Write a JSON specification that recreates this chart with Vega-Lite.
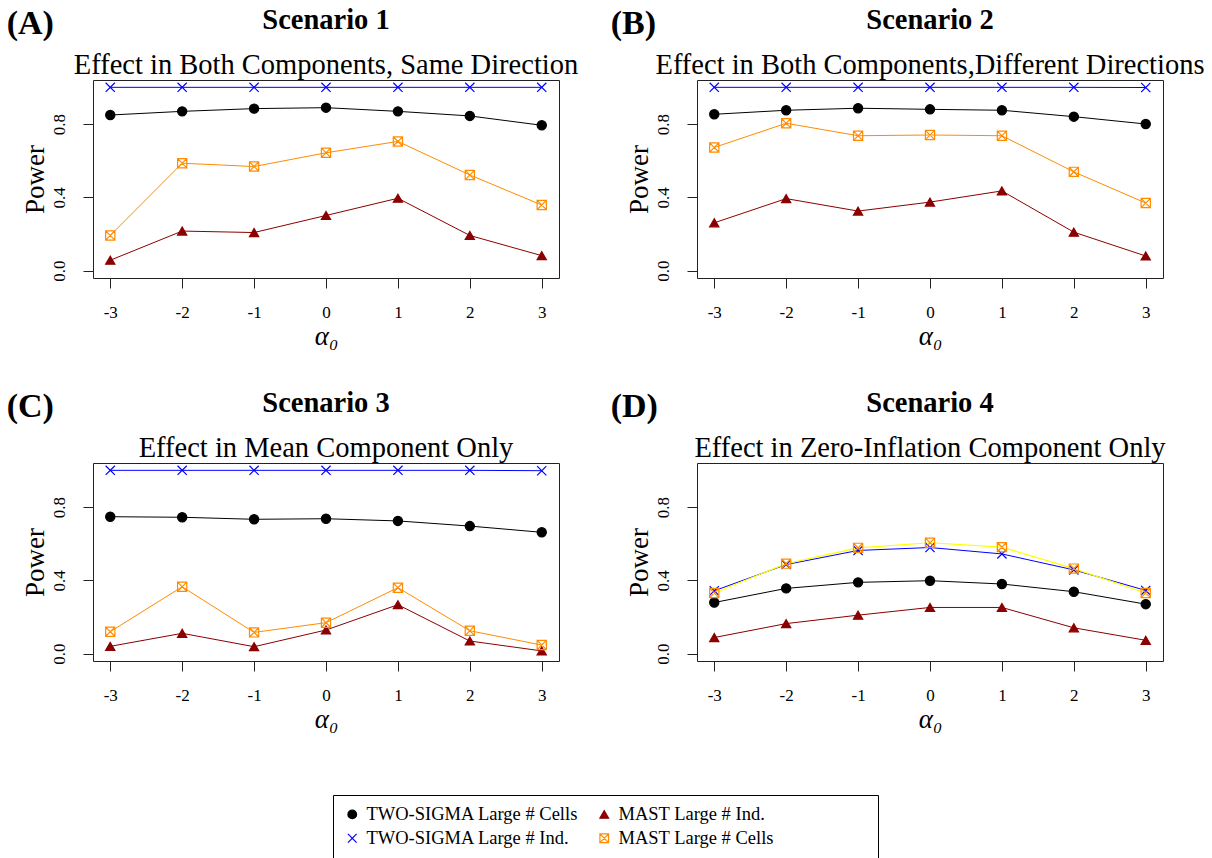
{
  "$schema": "https://vega.github.io/schema/vega-lite/v6.json",
  "background": "white",
  "padding": {"left": 6, "top": 5, "right": 0, "bottom": 0},
  "datasets": {
    "power": [
      {"panel":"A","alpha":-3,"series":"TWO-SIGMA Large # Cells","power":0.849},
      {"panel":"A","alpha":-2,"series":"TWO-SIGMA Large # Cells","power":0.869},
      {"panel":"A","alpha":-1,"series":"TWO-SIGMA Large # Cells","power":0.884},
      {"panel":"A","alpha":0,"series":"TWO-SIGMA Large # Cells","power":0.889},
      {"panel":"A","alpha":1,"series":"TWO-SIGMA Large # Cells","power":0.869},
      {"panel":"A","alpha":2,"series":"TWO-SIGMA Large # Cells","power":0.844},
      {"panel":"A","alpha":3,"series":"TWO-SIGMA Large # Cells","power":0.793},
      {"panel":"A","alpha":-3,"series":"TWO-SIGMA Large # Ind.","power":1.0},
      {"panel":"A","alpha":-2,"series":"TWO-SIGMA Large # Ind.","power":1.0},
      {"panel":"A","alpha":-1,"series":"TWO-SIGMA Large # Ind.","power":1.0},
      {"panel":"A","alpha":0,"series":"TWO-SIGMA Large # Ind.","power":1.0},
      {"panel":"A","alpha":1,"series":"TWO-SIGMA Large # Ind.","power":1.0},
      {"panel":"A","alpha":2,"series":"TWO-SIGMA Large # Ind.","power":1.0},
      {"panel":"A","alpha":3,"series":"TWO-SIGMA Large # Ind.","power":1.0},
      {"panel":"A","alpha":-3,"series":"MAST Large # Ind.","power":0.057},
      {"panel":"A","alpha":-2,"series":"MAST Large # Ind.","power":0.216},
      {"panel":"A","alpha":-1,"series":"MAST Large # Ind.","power":0.208},
      {"panel":"A","alpha":0,"series":"MAST Large # Ind.","power":0.301},
      {"panel":"A","alpha":1,"series":"MAST Large # Ind.","power":0.395},
      {"panel":"A","alpha":2,"series":"MAST Large # Ind.","power":0.192},
      {"panel":"A","alpha":3,"series":"MAST Large # Ind.","power":0.082},
      {"panel":"A","alpha":-3,"series":"MAST Large # Cells","power":0.192},
      {"panel":"A","alpha":-2,"series":"MAST Large # Cells","power":0.586},
      {"panel":"A","alpha":-1,"series":"MAST Large # Cells","power":0.568},
      {"panel":"A","alpha":0,"series":"MAST Large # Cells","power":0.643},
      {"panel":"A","alpha":1,"series":"MAST Large # Cells","power":0.705},
      {"panel":"A","alpha":2,"series":"MAST Large # Cells","power":0.522},
      {"panel":"A","alpha":3,"series":"MAST Large # Cells","power":0.358},

      {"panel":"B","alpha":-3,"series":"TWO-SIGMA Large # Cells","power":0.853},
      {"panel":"B","alpha":-2,"series":"TWO-SIGMA Large # Cells","power":0.875},
      {"panel":"B","alpha":-1,"series":"TWO-SIGMA Large # Cells","power":0.886},
      {"panel":"B","alpha":0,"series":"TWO-SIGMA Large # Cells","power":0.880},
      {"panel":"B","alpha":1,"series":"TWO-SIGMA Large # Cells","power":0.875},
      {"panel":"B","alpha":2,"series":"TWO-SIGMA Large # Cells","power":0.840},
      {"panel":"B","alpha":3,"series":"TWO-SIGMA Large # Cells","power":0.800},
      {"panel":"B","alpha":-3,"series":"TWO-SIGMA Large # Ind.","power":1.0},
      {"panel":"B","alpha":-2,"series":"TWO-SIGMA Large # Ind.","power":1.0},
      {"panel":"B","alpha":-1,"series":"TWO-SIGMA Large # Ind.","power":1.0},
      {"panel":"B","alpha":0,"series":"TWO-SIGMA Large # Ind.","power":1.0},
      {"panel":"B","alpha":1,"series":"TWO-SIGMA Large # Ind.","power":1.0},
      {"panel":"B","alpha":2,"series":"TWO-SIGMA Large # Ind.","power":1.0},
      {"panel":"B","alpha":3,"series":"TWO-SIGMA Large # Ind.","power":0.999},
      {"panel":"B","alpha":-3,"series":"MAST Large # Ind.","power":0.261},
      {"panel":"B","alpha":-2,"series":"MAST Large # Ind.","power":0.393},
      {"panel":"B","alpha":-1,"series":"MAST Large # Ind.","power":0.325},
      {"panel":"B","alpha":0,"series":"MAST Large # Ind.","power":0.374},
      {"panel":"B","alpha":1,"series":"MAST Large # Ind.","power":0.435},
      {"panel":"B","alpha":2,"series":"MAST Large # Ind.","power":0.210},
      {"panel":"B","alpha":3,"series":"MAST Large # Ind.","power":0.080},
      {"panel":"B","alpha":-3,"series":"MAST Large # Cells","power":0.672},
      {"panel":"B","alpha":-2,"series":"MAST Large # Cells","power":0.804},
      {"panel":"B","alpha":-1,"series":"MAST Large # Cells","power":0.736},
      {"panel":"B","alpha":0,"series":"MAST Large # Cells","power":0.740},
      {"panel":"B","alpha":1,"series":"MAST Large # Cells","power":0.736},
      {"panel":"B","alpha":2,"series":"MAST Large # Cells","power":0.539},
      {"panel":"B","alpha":3,"series":"MAST Large # Cells","power":0.369},

      {"panel":"C","alpha":-3,"series":"TWO-SIGMA Large # Cells","power":0.747},
      {"panel":"C","alpha":-2,"series":"TWO-SIGMA Large # Cells","power":0.744},
      {"panel":"C","alpha":-1,"series":"TWO-SIGMA Large # Cells","power":0.733},
      {"panel":"C","alpha":0,"series":"TWO-SIGMA Large # Cells","power":0.736},
      {"panel":"C","alpha":1,"series":"TWO-SIGMA Large # Cells","power":0.724},
      {"panel":"C","alpha":2,"series":"TWO-SIGMA Large # Cells","power":0.696},
      {"panel":"C","alpha":3,"series":"TWO-SIGMA Large # Cells","power":0.662},
      {"panel":"C","alpha":-3,"series":"TWO-SIGMA Large # Ind.","power":1.0},
      {"panel":"C","alpha":-2,"series":"TWO-SIGMA Large # Ind.","power":1.0},
      {"panel":"C","alpha":-1,"series":"TWO-SIGMA Large # Ind.","power":1.0},
      {"panel":"C","alpha":0,"series":"TWO-SIGMA Large # Ind.","power":1.0},
      {"panel":"C","alpha":1,"series":"TWO-SIGMA Large # Ind.","power":1.0},
      {"panel":"C","alpha":2,"series":"TWO-SIGMA Large # Ind.","power":1.0},
      {"panel":"C","alpha":3,"series":"TWO-SIGMA Large # Ind.","power":0.998},
      {"panel":"C","alpha":-3,"series":"MAST Large # Ind.","power":0.040},
      {"panel":"C","alpha":-2,"series":"MAST Large # Ind.","power":0.111},
      {"panel":"C","alpha":-1,"series":"MAST Large # Ind.","power":0.038},
      {"panel":"C","alpha":0,"series":"MAST Large # Ind.","power":0.129},
      {"panel":"C","alpha":1,"series":"MAST Large # Ind.","power":0.267},
      {"panel":"C","alpha":2,"series":"MAST Large # Ind.","power":0.069},
      {"panel":"C","alpha":3,"series":"MAST Large # Ind.","power":0.015},
      {"panel":"C","alpha":-3,"series":"MAST Large # Cells","power":0.120},
      {"panel":"C","alpha":-2,"series":"MAST Large # Cells","power":0.365},
      {"panel":"C","alpha":-1,"series":"MAST Large # Cells","power":0.116},
      {"panel":"C","alpha":0,"series":"MAST Large # Cells","power":0.169},
      {"panel":"C","alpha":1,"series":"MAST Large # Cells","power":0.360},
      {"panel":"C","alpha":2,"series":"MAST Large # Cells","power":0.125},
      {"panel":"C","alpha":3,"series":"MAST Large # Cells","power":0.047},

      {"panel":"D","alpha":-3,"series":"TWO-SIGMA Large # Cells","power":0.279},
      {"panel":"D","alpha":-2,"series":"TWO-SIGMA Large # Cells","power":0.356},
      {"panel":"D","alpha":-1,"series":"TWO-SIGMA Large # Cells","power":0.389},
      {"panel":"D","alpha":0,"series":"TWO-SIGMA Large # Cells","power":0.398},
      {"panel":"D","alpha":1,"series":"TWO-SIGMA Large # Cells","power":0.380},
      {"panel":"D","alpha":2,"series":"TWO-SIGMA Large # Cells","power":0.338},
      {"panel":"D","alpha":3,"series":"TWO-SIGMA Large # Cells","power":0.270},
      {"panel":"D","alpha":-3,"series":"TWO-SIGMA Large # Ind.","power":0.343},
      {"panel":"D","alpha":-2,"series":"TWO-SIGMA Large # Ind.","power":0.486},
      {"panel":"D","alpha":-1,"series":"TWO-SIGMA Large # Ind.","power":0.563},
      {"panel":"D","alpha":0,"series":"TWO-SIGMA Large # Ind.","power":0.579},
      {"panel":"D","alpha":1,"series":"TWO-SIGMA Large # Ind.","power":0.544},
      {"panel":"D","alpha":2,"series":"TWO-SIGMA Large # Ind.","power":0.457},
      {"panel":"D","alpha":3,"series":"TWO-SIGMA Large # Ind.","power":0.345},
      {"panel":"D","alpha":-3,"series":"MAST Large # Ind.","power":0.088},
      {"panel":"D","alpha":-2,"series":"MAST Large # Ind.","power":0.164},
      {"panel":"D","alpha":-1,"series":"MAST Large # Ind.","power":0.210},
      {"panel":"D","alpha":0,"series":"MAST Large # Ind.","power":0.252},
      {"panel":"D","alpha":1,"series":"MAST Large # Ind.","power":0.252},
      {"panel":"D","alpha":2,"series":"MAST Large # Ind.","power":0.141},
      {"panel":"D","alpha":3,"series":"MAST Large # Ind.","power":0.073},
      {"panel":"D","alpha":-3,"series":"MAST Large # Cells","power":0.331},
      {"panel":"D","alpha":-2,"series":"MAST Large # Cells","power":0.491},
      {"panel":"D","alpha":-1,"series":"MAST Large # Cells","power":0.577},
      {"panel":"D","alpha":0,"series":"MAST Large # Cells","power":0.605},
      {"panel":"D","alpha":1,"series":"MAST Large # Cells","power":0.581},
      {"panel":"D","alpha":2,"series":"MAST Large # Cells","power":0.464},
      {"panel":"D","alpha":3,"series":"MAST Large # Cells","power":0.331}
    ],
    "labels": [
      {"panel":"A","lab":"(A)"},
      {"panel":"B","lab":"(B)"},
      {"panel":"C","lab":"(C)"},
      {"panel":"D","lab":"(D)"}
    ]
  },
  "columns": 2,
  "spacing": {"row": 38, "column": 31},
  "concat": [
    {
      "width": 466, "height": 198,
      "title": {"text": "Scenario 1", "subtitle": "Effect in Both Components, Same Direction"},
      "layer": [
        {"data": {"name": "power"}, "transform": [{"filter": "datum.panel == 'A'"}],
         "mark": {"type": "line", "strokeWidth": 1},
         "encoding": {
           "x": {"field": "alpha", "type": "quantitative", "scale": {"domain": [-3.24, 3.24], "nice": false, "zero": false},
                 "axis": {"title": "α₀", "values": [-3, -2, -1, 0, 1, 2, 3], "labelExpr": "toString(datum.value)", "labelFont": "Liberation Serif", "labelFontSize": 17, "labelPadding": 16, "titleFont": "Liberation Serif", "titleFontSize": 27, "titleFontStyle": "italic", "titleFontWeight": "normal", "titlePadding": 3}},
           "y": {"field": "power", "type": "quantitative", "scale": {"domain": [-0.04, 1.04], "nice": false, "zero": false},
                 "axis": {"title": "Power", "values": [0, 0.2, 0.4, 0.6, 0.8, 1], "labelExpr": "(datum.value == 0 || datum.value == 0.4 || datum.value == 0.8) ? format(datum.value, '.1f') : ''", "labelAngle": -90, "labelAlign": "center", "labelBaseline": "bottom", "labelPadding": 15, "labelFont": "Liberation Serif", "labelFontSize": 17, "labelOverlap": false, "titleFont": "Liberation Serif", "titleFontSize": 27, "titleFontWeight": "normal", "titlePadding": 1}},
           "stroke": {"field": "series", "type": "nominal", "title": " ", "scale": {"domain": ["TWO-SIGMA Large # Cells", "MAST Large # Ind.", "TWO-SIGMA Large # Ind.", "MAST Large # Cells"], "range": ["#000000", "#8B0000", "#0000FF", "#FF8C00"]}}
         }},
        {"data": {"name": "power"}, "transform": [{"filter": "datum.panel == 'A'"}],
         "mark": {"type": "point", "strokeWidth": 1.2, "size": 85, "opacity": 1},
         "encoding": {
           "x": {"field": "alpha", "type": "quantitative"},
           "y": {"field": "power", "type": "quantitative"},
           "stroke": {"field": "series", "type": "nominal", "title": " "},
           "fill": {"field": "series", "type": "nominal", "title": " ", "scale": {"domain": ["TWO-SIGMA Large # Cells", "MAST Large # Ind.", "TWO-SIGMA Large # Ind.", "MAST Large # Cells"], "range": ["#000000", "#8B0000", "transparent", "transparent"]}},
           "shape": {"field": "series", "type": "nominal", "title": " ", "scale": {"domain": ["TWO-SIGMA Large # Cells", "MAST Large # Ind.", "TWO-SIGMA Large # Ind.", "MAST Large # Cells"], "range": ["circle", "triangle-up", "M-1,-1L1,1M-1,1L1,-1", "M-1,-1L1,-1L1,1L-1,1Z M-1,-1L1,1M-1,1L1,-1"]}}
         }},
        {"data": {"name": "labels"}, "transform": [{"filter": "datum.panel == 'A'"}],
         "mark": {"type": "text", "font": "Liberation Serif", "fontSize": 34, "fontWeight": "bold", "align": "left", "baseline": "alphabetic", "color": "black"},
         "encoding": {"x": {"datum": -4.44}, "y": {"datum": 1.29}, "text": {"field": "lab"}}}
      ]
    },
    {
      "width": 466, "height": 198,
      "title": {"text": "Scenario 2", "subtitle": "Effect in Both Components,Different Directions"},
      "layer": [
        {"data": {"name": "power"}, "transform": [{"filter": "datum.panel == 'B'"}],
         "mark": {"type": "line", "strokeWidth": 1},
         "encoding": {
           "x": {"field": "alpha", "type": "quantitative", "scale": {"domain": [-3.24, 3.24], "nice": false, "zero": false},
                 "axis": {"title": "α₀", "values": [-3, -2, -1, 0, 1, 2, 3], "labelExpr": "toString(datum.value)", "labelFont": "Liberation Serif", "labelFontSize": 17, "labelPadding": 16, "titleFont": "Liberation Serif", "titleFontSize": 27, "titleFontStyle": "italic", "titleFontWeight": "normal", "titlePadding": 3}},
           "y": {"field": "power", "type": "quantitative", "scale": {"domain": [-0.04, 1.04], "nice": false, "zero": false},
                 "axis": {"title": "Power", "values": [0, 0.2, 0.4, 0.6, 0.8, 1], "labelExpr": "(datum.value == 0 || datum.value == 0.4 || datum.value == 0.8) ? format(datum.value, '.1f') : ''", "labelAngle": -90, "labelAlign": "center", "labelBaseline": "bottom", "labelPadding": 15, "labelFont": "Liberation Serif", "labelFontSize": 17, "labelOverlap": false, "titleFont": "Liberation Serif", "titleFontSize": 27, "titleFontWeight": "normal", "titlePadding": 1}},
           "stroke": {"field": "series", "type": "nominal", "title": " "}
         }},
        {"data": {"name": "power"}, "transform": [{"filter": "datum.panel == 'B'"}],
         "mark": {"type": "point", "strokeWidth": 1.2, "size": 85, "opacity": 1},
         "encoding": {
           "x": {"field": "alpha", "type": "quantitative"},
           "y": {"field": "power", "type": "quantitative"},
           "stroke": {"field": "series", "type": "nominal", "title": " "},
           "fill": {"field": "series", "type": "nominal", "title": " "},
           "shape": {"field": "series", "type": "nominal", "title": " "}
         }},
        {"data": {"name": "labels"}, "transform": [{"filter": "datum.panel == 'B'"}],
         "mark": {"type": "text", "font": "Liberation Serif", "fontSize": 34, "fontWeight": "bold", "align": "left", "baseline": "alphabetic", "color": "black"},
         "encoding": {"x": {"datum": -4.44}, "y": {"datum": 1.29}, "text": {"field": "lab"}}}
      ]
    },
    {
      "width": 466, "height": 198,
      "title": {"text": "Scenario 3", "subtitle": "Effect in Mean Component Only"},
      "layer": [
        {"data": {"name": "power"}, "transform": [{"filter": "datum.panel == 'C'"}],
         "mark": {"type": "line", "strokeWidth": 1},
         "encoding": {
           "x": {"field": "alpha", "type": "quantitative", "scale": {"domain": [-3.24, 3.24], "nice": false, "zero": false},
                 "axis": {"title": "α₀", "values": [-3, -2, -1, 0, 1, 2, 3], "labelExpr": "toString(datum.value)", "labelFont": "Liberation Serif", "labelFontSize": 17, "labelPadding": 16, "titleFont": "Liberation Serif", "titleFontSize": 27, "titleFontStyle": "italic", "titleFontWeight": "normal", "titlePadding": 3}},
           "y": {"field": "power", "type": "quantitative", "scale": {"domain": [-0.04, 1.04], "nice": false, "zero": false},
                 "axis": {"title": "Power", "values": [0, 0.2, 0.4, 0.6, 0.8, 1], "labelExpr": "(datum.value == 0 || datum.value == 0.4 || datum.value == 0.8) ? format(datum.value, '.1f') : ''", "labelAngle": -90, "labelAlign": "center", "labelBaseline": "bottom", "labelPadding": 15, "labelFont": "Liberation Serif", "labelFontSize": 17, "labelOverlap": false, "titleFont": "Liberation Serif", "titleFontSize": 27, "titleFontWeight": "normal", "titlePadding": 1}},
           "stroke": {"field": "series", "type": "nominal", "title": " "}
         }},
        {"data": {"name": "power"}, "transform": [{"filter": "datum.panel == 'C'"}],
         "mark": {"type": "point", "strokeWidth": 1.2, "size": 85, "opacity": 1},
         "encoding": {
           "x": {"field": "alpha", "type": "quantitative"},
           "y": {"field": "power", "type": "quantitative"},
           "stroke": {"field": "series", "type": "nominal", "title": " "},
           "fill": {"field": "series", "type": "nominal", "title": " "},
           "shape": {"field": "series", "type": "nominal", "title": " "}
         }},
        {"data": {"name": "labels"}, "transform": [{"filter": "datum.panel == 'C'"}],
         "mark": {"type": "text", "font": "Liberation Serif", "fontSize": 34, "fontWeight": "bold", "align": "left", "baseline": "alphabetic", "color": "black"},
         "encoding": {"x": {"datum": -4.44}, "y": {"datum": 1.29}, "text": {"field": "lab"}}}
      ]
    },
    {
      "width": 466, "height": 198,
      "title": {"text": "Scenario 4", "subtitle": "Effect in Zero-Inflation Component Only"},
      "layer": [
        {"data": {"name": "power"}, "transform": [{"filter": "datum.panel == 'D' && datum.series != 'MAST Large # Cells'"}],
         "mark": {"type": "line", "strokeWidth": 1},
         "encoding": {
           "x": {"field": "alpha", "type": "quantitative", "scale": {"domain": [-3.24, 3.24], "nice": false, "zero": false},
                 "axis": {"title": "α₀", "values": [-3, -2, -1, 0, 1, 2, 3], "labelExpr": "toString(datum.value)", "labelFont": "Liberation Serif", "labelFontSize": 17, "labelPadding": 16, "titleFont": "Liberation Serif", "titleFontSize": 27, "titleFontStyle": "italic", "titleFontWeight": "normal", "titlePadding": 3}},
           "y": {"field": "power", "type": "quantitative", "scale": {"domain": [-0.04, 1.04], "nice": false, "zero": false},
                 "axis": {"title": "Power", "values": [0, 0.2, 0.4, 0.6, 0.8, 1], "labelExpr": "(datum.value == 0 || datum.value == 0.4 || datum.value == 0.8) ? format(datum.value, '.1f') : ''", "labelAngle": -90, "labelAlign": "center", "labelBaseline": "bottom", "labelPadding": 15, "labelFont": "Liberation Serif", "labelFontSize": 17, "labelOverlap": false, "titleFont": "Liberation Serif", "titleFontSize": 27, "titleFontWeight": "normal", "titlePadding": 1}},
           "stroke": {"field": "series", "type": "nominal", "title": " "}
         }},
        {"data": {"name": "power"}, "transform": [{"filter": "datum.panel == 'D' && datum.series == 'MAST Large # Cells'"}],
         "mark": {"type": "line", "strokeWidth": 1.2, "color": "#FFFF00"},
         "encoding": {
           "x": {"field": "alpha", "type": "quantitative"},
           "y": {"field": "power", "type": "quantitative"}
         }},
        {"data": {"name": "power"}, "transform": [{"filter": "datum.panel == 'D'"}],
         "mark": {"type": "point", "strokeWidth": 1.2, "size": 85, "opacity": 1},
         "encoding": {
           "x": {"field": "alpha", "type": "quantitative"},
           "y": {"field": "power", "type": "quantitative"},
           "stroke": {"field": "series", "type": "nominal", "title": " "},
           "fill": {"field": "series", "type": "nominal", "title": " "},
           "shape": {"field": "series", "type": "nominal", "title": " "}
         }},
        {"data": {"name": "labels"}, "transform": [{"filter": "datum.panel == 'D'"}],
         "mark": {"type": "text", "font": "Liberation Serif", "fontSize": 34, "fontWeight": "bold", "align": "left", "baseline": "alphabetic", "color": "black"},
         "encoding": {"x": {"datum": -4.44}, "y": {"datum": 1.29}, "text": {"field": "lab"}}}
      ]
    }
  ],
  "config": {
    "font": "Liberation Serif",
    "view": {"stroke": "#222222", "strokeWidth": 1},
    "title": {"font": "Liberation Serif", "fontSize": 28.5, "fontWeight": "bold", "color": "black", "anchor": "middle", "subtitleFont": "Liberation Serif", "subtitleFontSize": 28.5, "subtitleColor": "black", "subtitlePadding": 16, "offset": -72},
    "axis": {"grid": false, "domain": false, "tickColor": "#222222", "tickSize": 10, "labelColor": "black", "titleColor": "black"},
    "legend": {"orient": "bottom", "layout": {"bottom": {"anchor": "middle"}}, "columns": 2, "gridAlign": "all", "strokeColor": "black", "padding": 10, "labelFont": "Liberation Serif", "labelFontSize": 18.5, "labelColor": "black", "labelLimit": 400, "symbolSize": 75, "symbolStrokeWidth": 1.2, "symbolType": "circle", "labelOffset": 5, "columnPadding": 16, "rowPadding": 5, "offset": 62, "titleOrient": "right", "titlePadding": 94, "titleFontSize": 18.5, "titleFont": "Liberation Serif"}
  }
}
